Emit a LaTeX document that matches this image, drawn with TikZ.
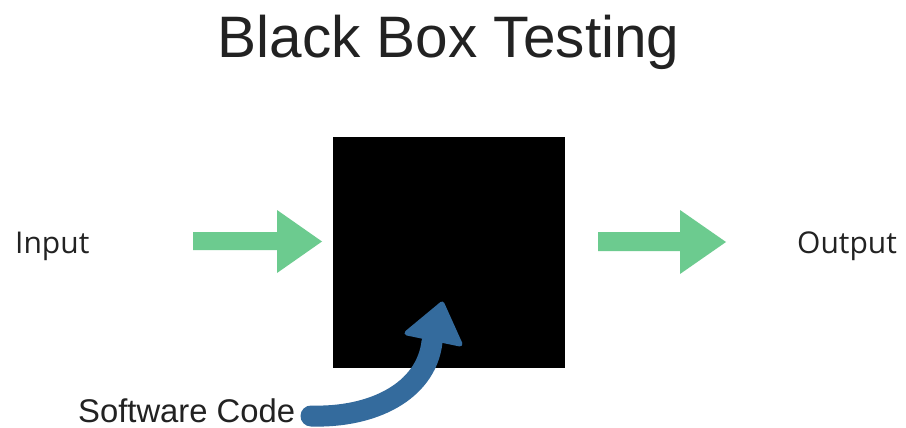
\documentclass[tikz,border=0pt]{standalone}
\usepackage{fontspec}
\setmainfont{Liberation Sans}
\newfontfamily\labelfont{Open Sans}
\definecolor{arrowgreen}{RGB}{108,203,143}
\definecolor{codeblue}{RGB}{52,107,157}
\definecolor{inkgray}{RGB}{34,34,34}
\begin{document}
\begin{tikzpicture}[x=1pt,y=-1pt,
  caption/.style={inner sep=0pt,text=inkgray,anchor=base},
  flowarrow/.style={fill=arrowgreen,draw=none}]
\useasboundingbox (0,0) rectangle (906,428);
\fill[white] (0,0) rectangle (906,428);

% title
\node[caption,font=\fontsize{58.5}{62}\selectfont] (title) at (448.5,58) {Black Box Testing};

% the black box
\node[fill=black,minimum width=232pt,minimum height=231pt,inner sep=0pt,anchor=north west] (box) at (333,137) {};

% side labels
\node[caption,font=\labelfont\fontsize{30}{32}\selectfont,anchor=base west] (input) at (15,253) {Input};
\node[caption,font=\labelfont\fontsize{30}{32}\selectfont,anchor=base west] (output) at (797,253) {Output};
\node[caption,font=\fontsize{32.8}{35}\selectfont,anchor=base west] (code) at (78,422) {Software Code};

% green block arrows
\fill[flowarrow] (193,232) -- (277,232) -- (277,210) -- (322,241.5) -- (277,273) -- (277,250) -- (193,250) -- cycle;
\fill[flowarrow] (598,232) -- (680,232) -- (680,210) -- (726,242) -- (680,274) -- (680,251) -- (598,251) -- cycle;

% curved arrow from the code label into the box
\coordinate (tail) at (311,416);
\coordinate (headbase) at (432,342);
\draw[codeblue,line width=21pt,line cap=round] (tail) .. controls (372,418) and (426,392) .. (headbase);
\filldraw[codeblue,line width=5pt,line join=round] (407,333) -- (442,304) -- (460,344) -- cycle;
\end{tikzpicture}
\end{document}
